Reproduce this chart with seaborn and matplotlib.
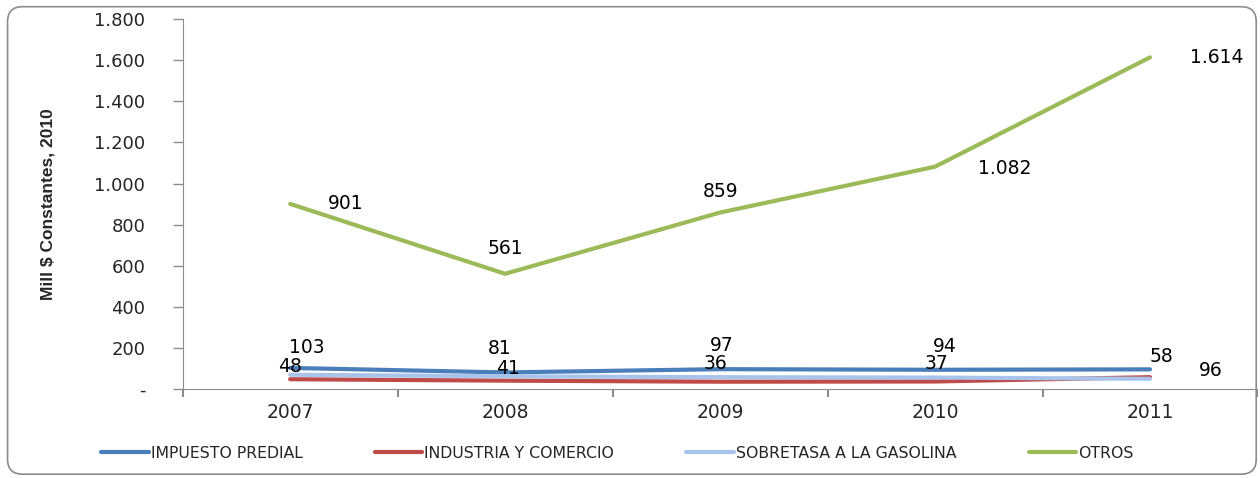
import matplotlib
matplotlib.use('Agg')
import matplotlib.pyplot as plt
import seaborn as sns
import pandas as pd
from matplotlib.patches import FancyBboxPatch
from matplotlib.lines import Line2D
from matplotlib.ticker import FuncFormatter, FixedLocator

# data
years = ['2007', '2008', '2009', '2010', '2011']
predial = [103, 81, 97, 94, 96]
industria = [48, 41, 36, 37, 58]
sobretasa = [70, 62, 58, 56, 50]
otros = [901, 561, 859, 1082, 1614]

series_names = ['IMPUESTO PREDIAL', 'INDUSTRIA Y COMERCIO', 'SOBRETASA A LA GASOLINA', 'OTROS']
colors = ['#4A7EBB', '#BE4B48', '#A9C4EB', '#9BBB59']

df = pd.DataFrame({
    'pos': list(range(len(years))) * 4,
    'valor': predial + industria + sobretasa + otros,
    'serie': sum([[n] * len(years) for n in series_names], []),
})

sns.set_style('white')
plt.rcParams['font.family'] = ['DejaVu Sans']

fig = plt.figure(figsize=(12.6, 4.78), dpi=100)
ax = fig.add_axes([0.145, 0.186, 0.853, 0.774])

sns.lineplot(data=df, x='pos', y='valor', hue='serie', hue_order=series_names,
             palette=colors, linewidth=3, ax=ax, legend=False)

ax.set_xlim(-0.5, 4.5)
ax.set_ylim(0, 1800)
ax.set_xlabel('')

# axes styling
for s in ['top', 'right']:
    ax.spines[s].set_visible(False)
ax.spines['left'].set_color('#8C8C8C')
ax.spines['bottom'].set_color('#8C8C8C')

ax.yaxis.set_major_locator(FixedLocator(range(0, 1801, 200)))
ax.yaxis.set_major_formatter(FuncFormatter(lambda v, p: '-' if v == 0 else f'{int(v):,}'.replace(',', '.')))
ax.tick_params(axis='y', left=True, direction='out', length=7, width=1,
               color='#8C8C8C', labelsize=13, pad=20)

# category boundaries carry the tick marks, labels sit at the centres
ax.set_xticks([i + 0.5 for i in range(-1, len(years))])
ax.set_xticklabels([])
ax.set_xticks(range(len(years)), minor=True)
ax.set_xticklabels(years, minor=True, fontsize=13.5)
ax.tick_params(axis='x', which='major', bottom=True, direction='out', length=6, width=1.5,
               color='#8C8C8C')
ax.tick_params(axis='x', which='minor', bottom=True, length=0, pad=10)

ax.set_ylabel('Mill $ Constantes, 2010', fontsize=12.5, fontweight='bold', labelpad=28,
              family='Liberation Sans')

# data labels (offsets in points)
def fmt(v):
    return f'{v:,}'.replace(',', '.')

label_offsets = {
    'OTROS': [(40, 0), (0, 18), (0, 15), (50, -1), (48, 0)],
    'IMPUESTO PREDIAL': [(12, 15), (-4, 17), (1, 17), (7, 17), (44, -1)],
    'INDUSTRIA Y COMERCIO': [(0, 9), (2, 9), (-3, 13), (1, 13), (8, 15)],
}
vals = {'OTROS': otros, 'IMPUESTO PREDIAL': predial, 'INDUSTRIA Y COMERCIO': industria}
for name, offs in label_offsets.items():
    for i, v in enumerate(vals[name]):
        ax.annotate(fmt(v), (i, v), xytext=offs[i], textcoords='offset points',
                    ha='center', va='center', fontsize=13.5, color='black')

# legend
handles = [Line2D([0], [0], color=c, lw=3) for c in colors]
fig.legend(handles, series_names, loc='center', bbox_to_anchor=(0.49, 0.052), ncol=4,
           frameon=False, handlelength=3.0, handletextpad=0.15, columnspacing=4.6,
           prop={'family': 'DejaVu Sans', 'size': 11.3})

# outer border
border = FancyBboxPatch((0.006, 0.008), 0.991, 0.978, boxstyle='round,pad=0,rounding_size=0.012',
                        transform=fig.transFigure, fill=False, edgecolor='#8C8C8C', lw=1.2,
                        mutation_aspect=2.6)
fig.patches.append(border)

fig.savefig('out.png', dpi=100)
